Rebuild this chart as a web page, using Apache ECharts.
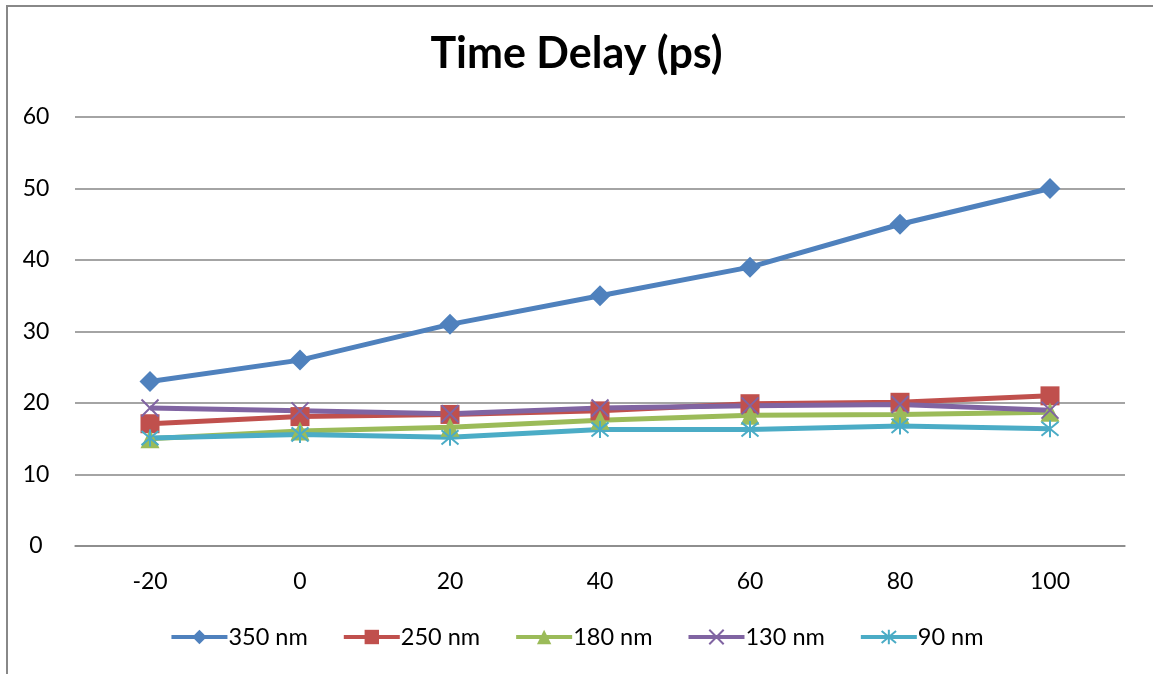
<!DOCTYPE html>
<html>
<head>
<meta charset="utf-8">
<script src="https://cdn.jsdelivr.net/npm/echarts@6/dist/echarts.min.js"></script>
<style>
html,body{margin:0;padding:0;background:#fff;}
#frame{position:absolute;left:6px;top:5px;width:1160px;height:680px;border-left:2px solid #888;border-top:2px solid #888;}
#chart{position:absolute;left:0;top:0;width:1153px;height:674px;}
</style>
</head>
<body>
<div id="frame"></div>
<div id="chart"></div>
<script>
const categories = ['-20','0','20','40','60','80','100'];
const s350 = [23, 26, 31, 35, 39, 45, 50];
const s250 = [17.1, 18.1, 18.4, 18.9, 19.9, 20.1, 21.0];
const s180 = [15.0, 16.1, 16.6, 17.6, 18.3, 18.4, 18.7];
const s130 = [19.3, 18.9, 18.5, 19.3, 19.6, 19.8, 19.0];
const s90  = [15.1, 15.6, 15.2, 16.3, 16.3, 16.8, 16.4];
const yTicks = [0, 10, 20, 30, 40, 50, 60];

const FONT = 'Lato, "Open Sans", sans-serif';
const xPath = 'path://M0,0L10,10M10,0L0,10';
const starPath = 'path://M0,0L10,10M10,0L0,10M5,-1L5,11';

function mk(name, data, color, symbol, size, stroke) {
  const s = {
    name, type: 'line', data, symbol, symbolSize: size,
    lineStyle: { color, width: 5 },
    itemStyle: { color },
    emphasis: { disabled: true },
    z: 2
  };
  if (stroke) {
    s.itemStyle = { color: 'rgba(0,0,0,0)', borderColor: color, borderWidth: 2 };
  }
  return s;
}

const chart = echarts.init(document.getElementById('chart'), null, { renderer: 'canvas' });
chart.setOption({
  animation: false,
  color: ['#4F81BD', '#C0504D', '#9BBB59', '#8064A2', '#4BACC6'],
  title: {
    text: 'Time Delay (ps)', left: 'center', top: 28,
    textStyle: { fontFamily: FONT, fontWeight: 'bold', fontSize: 43, color: '#000' }
  },
  legend: {
    bottom: 20, left: 'center', itemWidth: 56, itemHeight: 18, itemGap: 34,
    lineStyle: { width: 4 },
    textStyle: { fontFamily: FONT, fontSize: 23.5, color: '#000', padding: [0, 0, 0, -4] },
    data: ['350 nm', '250 nm', '180 nm', '130 nm', '90 nm']
  },
  grid: { left: 75, right: 28, top: 117, bottom: 128, containLabel: false },
  xAxis: {
    type: 'category', data: categories, boundaryGap: true,
    axisLine: { show: true, lineStyle: { color: '#868686', width: 1.5 } },
    axisTick: { show: false },
    axisLabel: { fontFamily: FONT, fontSize: 23, color: '#000', margin: 24 }
  },
  yAxis: {
    type: 'value', min: yTicks[0], max: yTicks[yTicks.length - 1], interval: 10,
    axisLine: { show: false }, axisTick: { show: false },
    splitLine: { lineStyle: { color: '#868686', width: 1.5 } },
    axisLabel: { fontFamily: FONT, fontSize: 23, color: '#000', margin: 39, align: 'center' }
  },
  series: [
    mk('350 nm', s350, '#4F81BD', 'diamond', 21),
    mk('250 nm', s250, '#C0504D', 'rect', 19),
    mk('180 nm', s180, '#9BBB59', 'triangle', 19),
    mk('130 nm', s130, '#8064A2', xPath, 17, true),
    mk('90 nm', s90, '#4BACC6', starPath, 17, true)
  ]
});
</script>
</body>
</html>
